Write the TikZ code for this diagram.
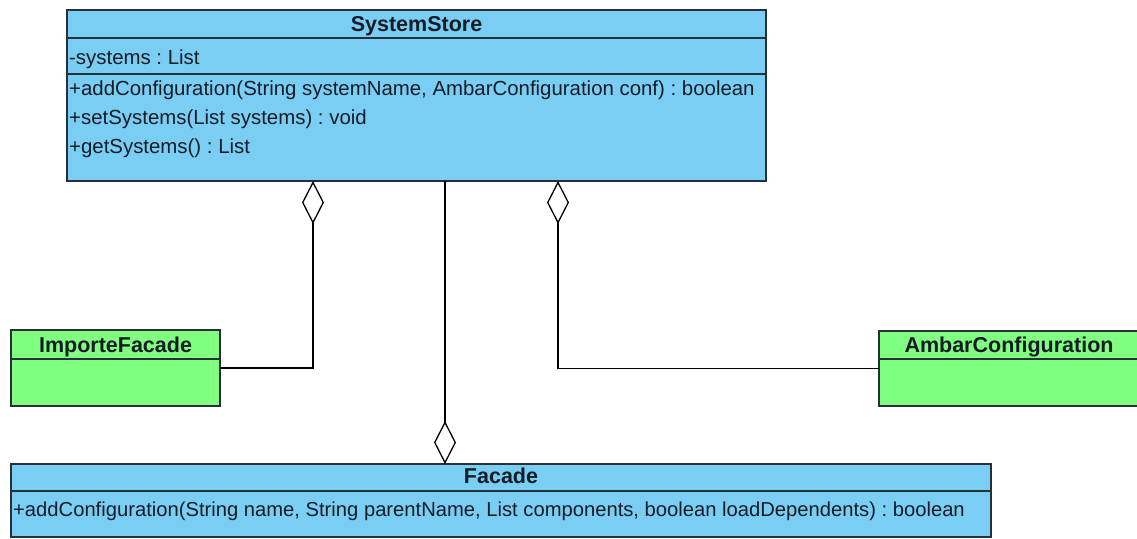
\documentclass[tikz,border=0pt]{standalone}
\usepackage{fontspec}
\setmainfont{Liberation Sans}
\usetikzlibrary{arrows.meta}
\definecolor{clsblue}{RGB}{122,206,244}
\definecolor{clsgreen}{RGB}{128,255,128}
\definecolor{edgecol}{RGB}{38,48,58}
\definecolor{inkcol}{RGB}{20,28,38}
\frenchspacing

\begin{document}
\begin{tikzpicture}[x=1pt,y=-1pt,
  classbox/.style={draw=edgecol, line width=1.4pt, anchor=north west, inner sep=0pt, outer sep=0pt},
  sepline/.style={draw=edgecol, line width=1.4pt},
  classname/.style={font=\fontsize{21.5}{24}\selectfont\bfseries, text=inkcol, anchor=base, inner sep=0pt},
  member/.style={font=\fontsize{20.4}{24}\selectfont, text=inkcol, anchor=base west, inner sep=0pt},
  link/.style={draw=black, line width=1.4pt},
  agg/.style={link, {Diamond[open, length=43pt, width=22pt, line width=1.3pt]}-}
]
\clip (0,0) rectangle (1137,538);
\fill[white] (0,0) rectangle (1137,538);

% SystemStore
\node[classbox, fill=clsblue, minimum width=699pt, minimum height=171pt] (ss) at (67,10) {};
\draw[sepline] (ss.north west) ++(0,28) -- ++(699,0);
\draw[sepline] (ss.north west) ++(0,64) -- ++(699,0);
\node[classname] (ssname) at (416.5,31) {SystemStore};
\node[member] (ssattr) at (69,64) {-systems : List};
\node[member] (ssop1) at (69,95) {+addConfiguration(String systemName, AmbarConfiguration conf) : boolean};
\node[member] (ssop2) at (69,124) {+setSystems(List systems) : void};
\node[member] (ssop3) at (69,153) {+getSystems() : List};

% ImporteFacade
\node[classbox, fill=clsgreen, minimum width=209pt, minimum height=76pt] (imp) at (11,330) {};
\draw[sepline] (imp.north west) ++(0,29) -- ++(209,0);
\node[classname] (impname) at (115.5,352) {ImporteFacade};

% AmbarConfiguration
\node[classbox, fill=clsgreen, minimum width=260pt, minimum height=75pt] (amb) at (879,331) {};
\draw[sepline] (amb.north west) ++(0,28) -- ++(260,0);
\node[classname] (ambname) at (1009,352) {AmbarConfiguration};

% Facade
\node[classbox, fill=clsblue, minimum width=980pt, minimum height=73pt] (fac) at (11,464) {};
\draw[sepline] (fac.north west) ++(0,27) -- ++(980,0);
\node[classname] (facname) at (501,483) {Facade};
\node[member, font=\fontsize{20.2}{24}\selectfont] (facop1) at (13,516) {+addConfiguration(String name, String parentName, List components, boolean loadDependents) : boolean};

% aggregation ends
\coordinate (aggL) at (313,181);
\coordinate (aggR) at (558,181);
\coordinate (aggF) at (445,464);

\draw[agg] (aggL) |- (imp.east);
\draw[agg] (aggR) |- (amb.west);
\draw[agg] (aggF) -- (ss.south -| aggF);
\end{tikzpicture}
\end{document}
